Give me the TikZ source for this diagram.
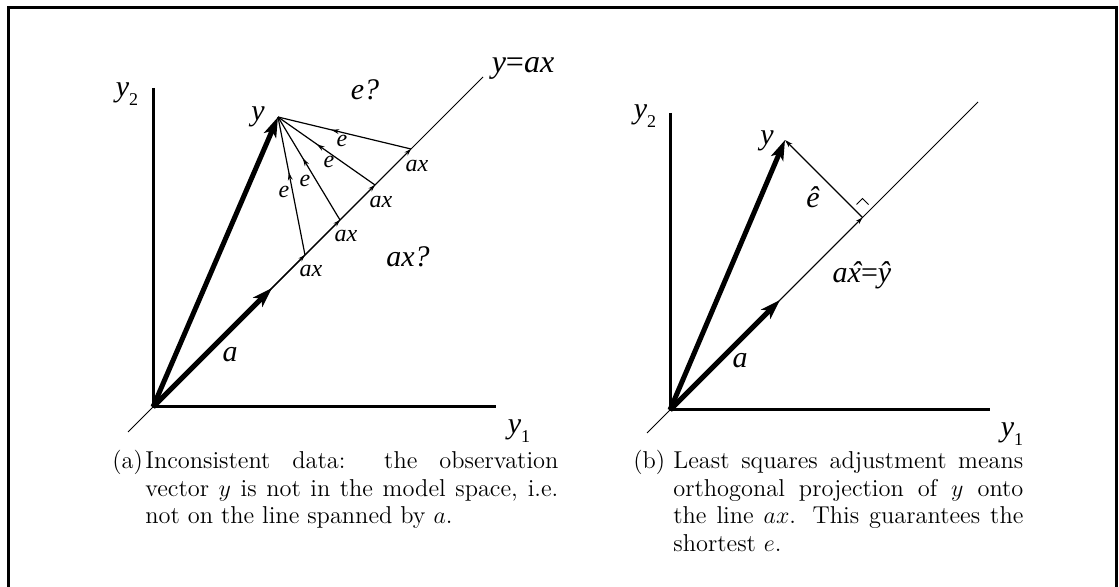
\documentclass[tikz,border=0pt]{standalone}
\usepackage{fontspec}
\newfontfamily\tms{Liberation Serif}
\usetikzlibrary{arrows.meta,decorations.markings,calc}
\newcommand\xhatit{\hbox{\ooalign{x\cr\hidewidth\kern0.12em\symbol{"02C6}\hidewidth\cr}}}
\newcommand\subtwo[1]{\raisebox{-0.3em}{\upshape\fontsize{9}{9}\selectfont #1}}
\begin{document}
\begin{tikzpicture}[x=0.5pt,y=-0.5pt,
  axisline/.style={line width=1.5pt},
  modelline/.style={line width=0.5pt},
  bigvec/.style={line width=2.5pt,-{Stealth[length=10pt,width=6.5pt,inset=2.5pt]}},
  smallvec/.style={line width=0.5pt,-{Stealth[length=3.5pt,width=2.2pt]}},
  evec/.style={line width=0.6pt,postaction={decorate},
    decoration={markings,mark=at position 0.6 with {\arrow{Stealth[length=4pt,width=2.4pt]}}}},
  ehatvec/.style={line width=0.6pt,-{Stealth[length=4pt,width=2.4pt]}},
  biglab/.style={inner sep=0pt,anchor=base,font=\tms\itshape\fontsize{15}{15}\selectfont},
  smalllab/.style={inner sep=0pt,anchor=base,font=\tms\itshape\fontsize{12}{12}\selectfont},
  captext/.style={inner sep=0pt,anchor=base west,font=\fontsize{12.2}{14}\selectfont},
  frame/.style={line width=1.3pt}]
\useasboundingbox (0,0) rectangle (1119,587);
% frame
\draw[frame] (8.5,600) -- (8.5,7.5) -- (1116.5,7.5) -- (1116.5,600);

% ---------- left panel ----------
\coordinate (O1) at (153,407);
\coordinate (T1) at (153,88);
\coordinate (R1) at (496,407);
\coordinate (La) at (128,432);
\coordinate (Lb) at (483,77);
\coordinate (Y1) at (278,117);
\coordinate (A1) at (272,288);
\coordinate (P1) at (305,255);
\coordinate (P2) at (340,220);
\coordinate (P3) at (375,185);
\coordinate (P4) at (411,149);

\draw[modelline] (La) -- (Lb);
\foreach \p in {P1,P2,P3,P4} \draw[smallvec] (O1) -- (\p);
\foreach \p in {P1,P2,P3,P4} \draw[evec] (\p) -- (Y1);
\draw[axisline] (T1) -- (O1) -- (R1);
\draw[bigvec] (O1) -- (A1);
\draw[bigvec] (O1) -- (Y1);

\node[biglab] (ly2a) at (127,97) {y\subtwo{2}};
\node[biglab] (ly1a) at (519,434) {y\subtwo{1}};
\node[biglab,font=\tms\itshape\fontsize{16}{16}\selectfont] (lyax) at (523,73) {y{\upshape =}ax};
\node[biglab] (leq) at (365,100) {e?};
\node[biglab] (lya) at (258,121) {y};
\node[biglab] (laxq) at (408,267) {ax?};
\node[biglab] (laa) at (230,362) {a};
\node[smalllab] (le1) at (284,198) {e};
\node[smalllab] (le2) at (305,187) {e};
\node[smalllab] (le3) at (329,168) {e};
\node[smalllab] (le4) at (342,147) {e};
\node[smalllab] (lax1) at (311,277) {ax};
\node[smalllab] (lax2) at (346,242) {ax};
\node[smalllab] (lax3) at (381,208) {ax};
\node[smalllab] (lax4) at (417,172) {ax};

% ---------- right panel ----------
\coordinate (O2) at (670,410);
\coordinate (T2) at (670,113);
\coordinate (R2) at (990,410);
\coordinate (Ma) at (647,433);
\coordinate (Mb) at (978,102);
\coordinate (Y2) at (785,140);
\coordinate (A2) at (780,300);
\coordinate (F) at (862.5,217.5);

\draw[modelline] (Ma) -- (Mb);
\draw[smallvec] (O2) -- (F);
\draw[ehatvec] (F) -- (Y2);
\draw[line width=0.5pt] ($(F)+(-6,-13)$) -- ($(F)+(0,-19)$) -- ($(F)+(6,-13)$);
\draw[axisline] (T2) -- (O2) -- (R2);
\draw[bigvec] (O2) -- (A2);
\draw[bigvec] (O2) -- (Y2);

\node[biglab] (ly2b) at (645,119) {y\subtwo{2}};
\node[biglab] (ly1b) at (1012,437) {y\subtwo{1}};
\node[biglab] (lyb) at (767,145) {y};
\node[biglab] (lehat) at (813,208) {ê};
\node[biglab] (lab) at (740,368) {a};
\node[biglab] (lproj) at (862,283) {a\xhatit{\upshape =}ŷ};

% ---------- captions ----------
\node[captext] (capa) at (112,468) {\parbox[t]{223pt}{\hangindent=16.5pt\hangafter=1
  \makebox[16.5pt][l]{(a)}Inconsistent data: the observation\linebreak
  vector $y$ is not in the model space, i.e.\linebreak
  not on the line spanned by~$a$.}};
\node[captext] (capb) at (633,468) {\parbox[t]{195pt}{\hangindent=20pt\hangafter=1
  \makebox[20pt][l]{(b)}Least squares adjustment means\linebreak
  orthogonal projection of $y$ onto\linebreak
  the line $ax$. This guarantees the\linebreak
  shortest $e$.}};
\end{tikzpicture}
\end{document}
